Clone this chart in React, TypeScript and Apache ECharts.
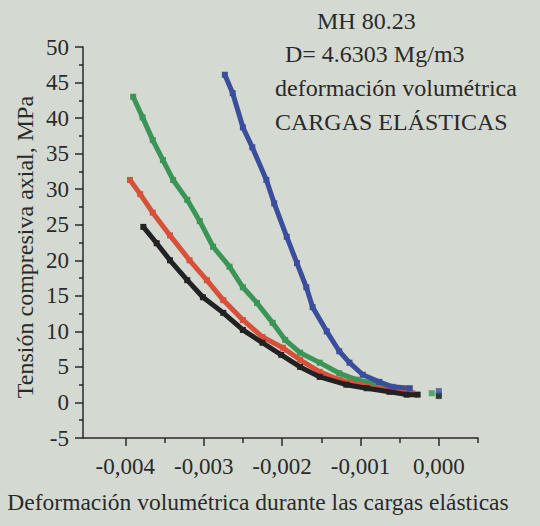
import React, { useEffect, useRef } from "react";
import * as echarts from "echarts";

// Data: [volumetric strain, axial stress MPa]
const blueCurve: number[][] = [
  [-0.00273, 46.1], [-0.00263, 43.5], [-0.0025, 38.7], [-0.00238, 35.9], [-0.0022, 31.3],
  [-0.0021, 28.0], [-0.00194, 23.3], [-0.00181, 19.6], [-0.00169, 16.2], [-0.00161, 13.4],
  [-0.00143, 10.0], [-0.00127, 7.2], [-0.00114, 5.6], [-0.00097, 3.9], [-0.00076, 2.9],
  [-0.00059, 2.2], [-0.00037, 2.0],
];
const blueEnd: number[][] = [[0, 1.6]];

const greenCurve: number[][] = [
  [-0.0039, 43.0], [-0.00378, 40.1], [-0.00365, 36.9], [-0.00352, 34.1], [-0.00339, 31.3],
  [-0.00321, 28.5], [-0.00305, 25.5], [-0.00288, 21.9], [-0.00267, 19.1], [-0.0025, 16.2],
  [-0.00232, 14.0], [-0.00212, 11.2], [-0.00196, 8.8], [-0.00177, 7.0], [-0.00152, 5.6],
  [-0.00127, 4.1], [-0.00105, 3.2], [-0.00085, 2.7], [-0.00067, 2.0], [-0.0005, 1.8],
];
const greenEnd: number[][] = [[-0.00009, 1.3], [0, 1.1]];

const redCurve: number[][] = [
  [-0.00394, 31.3], [-0.00381, 29.3], [-0.00365, 26.7], [-0.00343, 23.5], [-0.00318, 20.0],
  [-0.00296, 17.2], [-0.00275, 14.4], [-0.0025, 11.6], [-0.00225, 9.2], [-0.00199, 7.7],
  [-0.00177, 6.0], [-0.00152, 4.3], [-0.00127, 3.2], [-0.00101, 2.5], [-0.00076, 1.9],
  [-0.00054, 1.5], [-0.00034, 1.3],
];

const blackCurve: number[][] = [
  [-0.00377, 24.7], [-0.0036, 22.4], [-0.00343, 20.0], [-0.00321, 17.2], [-0.00301, 14.8],
  [-0.00275, 12.6], [-0.0025, 10.2], [-0.00225, 8.4], [-0.00201, 6.7], [-0.00177, 5.0],
  [-0.00152, 3.6], [-0.00118, 2.5], [-0.00092, 2.0], [-0.00063, 1.5], [-0.00041, 1.1],
  [-0.00027, 1.1],
];
const blackEnd: number[][] = [[0, 0.9]];

const xMajorTicks = [-0.004, -0.003, -0.002, -0.001, 0];
const xMinorTicks = [-0.0035, -0.0025, -0.0015, -0.0005, 0.0005];

const titleLines = ["MH 80.23", "D= 4.6303 Mg/m3", "deformación volumétrica", "CARGAS ELÁSTICAS"];
const xTitle = "Deformación volumétrica durante las cargas elásticas";
const yTitle = "Tensión compresiva axial, MPa";

const BG = "#d4dad1";
const INK = "#2a2a2a";
const FONT = "Liberation Serif";

export default function App() {
  const ref = useRef<HTMLDivElement>(null);

  useEffect(() => {
    const chart = echarts.init(ref.current!, null, { renderer: "svg" });

    const curve = (data: number[][], color: string, z: number) => ({
      type: "line",
      data,
      z,
      symbol: "rect",
      symbolSize: 6,
      showSymbol: true,
      lineStyle: { color, width: 5 },
      itemStyle: { color },
      silent: true,
    });
    const ends = (data: number[][], color: string, z: number) => ({
      type: "scatter",
      data,
      z,
      symbol: "rect",
      symbolSize: 6,
      itemStyle: { color },
      silent: true,
    });

    const titleLeft = [317, 285, 275, 275];
    const titleY = [21, 54, 88, 122];
    const txt = { fontFamily: FONT, fill: INK };

    chart.setOption({
      animation: false,
      backgroundColor: BG,
      textStyle: { fontFamily: FONT },
      grid: { left: 83, right: 62, top: 47, bottom: 88, containLabel: false },
      xAxis: [
        {
          type: "value",
          min: -0.00454,
          max: 0.0005,
          position: "bottom",
          axisLine: { show: true, onZero: false, lineStyle: { color: INK, width: 1.5 } },
          axisTick: { show: true, length: 8, customValues: xMajorTicks, lineStyle: { color: INK, width: 1.5 } },
          axisLabel: {
            customValues: xMajorTicks,
            margin: 17,
            fontSize: 23,
            fontFamily: FONT,
            color: INK,
            formatter: (v: number) => (Math.abs(v) < 1e-12 ? "0,000" : v.toFixed(3).replace(".", ",")),
          },
          splitLine: { show: false },
        },
        {
          type: "value",
          min: -0.00454,
          max: 0.0005,
          position: "bottom",
          axisLine: { show: false, onZero: false },
          axisTick: { show: true, length: 5, customValues: xMinorTicks, lineStyle: { color: INK, width: 1.5 } },
          axisLabel: { show: false },
          splitLine: { show: false },
        },
      ],
      yAxis: {
        type: "value",
        min: -5,
        max: 50,
        interval: 5,
        axisLine: { show: true, onZero: false, lineStyle: { color: INK, width: 1.5 } },
        axisTick: { show: true, length: 8, lineStyle: { color: INK, width: 1.5 } },
        minorTick: { show: true, splitNumber: 2, length: 4, lineStyle: { color: INK, width: 1.5 } },
        axisLabel: { margin: 14, fontSize: 23, fontFamily: FONT, color: INK },
        splitLine: { show: false },
        minorSplitLine: { show: false },
      },
      series: [
        curve(greenCurve, "#3a9556", 2),
        ends(greenEnd, "#3a9556", 2),
        curve(redCurve, "#d6503a", 3),
        curve(blackCurve, "#222222", 4),
        ends(blackEnd, "#222222", 4),
        curve(blueCurve, "#3a4e9b", 5),
        ends(blueEnd, "#3a4e9b", 5),
      ],
      graphic: [
        ...titleLines.map((t, i) => ({
          type: "text",
          x: titleLeft[i],
          y: titleY[i],
          style: { ...txt, fontSize: 24, text: t, align: "left", verticalAlign: "middle" },
        })),
        {
          type: "text",
          x: 258,
          y: 502,
          style: { ...txt, fontSize: 23.5, text: xTitle, align: "center", verticalAlign: "middle" },
        },
        {
          type: "text",
          x: 25,
          y: 247,
          rotation: Math.PI / 2,
          style: { ...txt, fontSize: 24, text: yTitle, align: "center", verticalAlign: "middle" },
        },
      ],
    });
    return () => chart.dispose();
  }, []);

  return (
    <div style={{ position: "fixed", left: 0, top: 0, width: 540, height: 526, background: BG }}>
      <div ref={ref} style={{ width: 540, height: 526 }} />
    </div>
  );
}
